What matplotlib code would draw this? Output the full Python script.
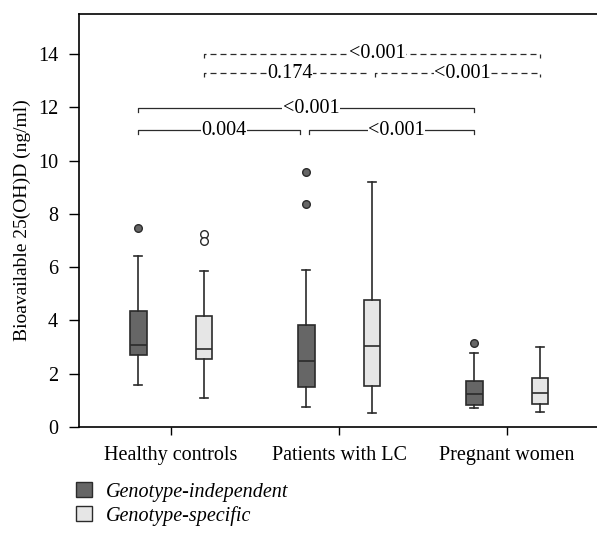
import matplotlib
matplotlib.use("Agg")
from matplotlib import pyplot as plt
from matplotlib.patches import Patch
import numpy as np

plt.rcParams['font.family'] = ['Liberation Serif', 'DejaVu Serif']

groups = ["Healthy controls", "Patients with LC", "Pregnant women"]
series = ["Genotype-independent", "Genotype-specific"]

# box summaries: whislo, q1, med, q3, whishi
indep_stats = [
    [1.58, 2.69, 3.06, 4.34, 6.43],
    [0.76, 1.49, 2.48, 3.82, 5.88],
    [0.70, 0.81, 1.23, 1.74, 2.76],
]
spec_stats = [
    [1.10, 2.56, 2.93, 4.17, 5.85],
    [0.51, 1.54, 3.04, 4.75, 9.21],
    [0.57, 0.86, 1.26, 1.84, 3.00],
]
indep_fliers = [[7.45], [9.58, 8.36], [3.16]]
spec_fliers = [[7.24, 6.97], [], []]

# comparisons: (group a, group b, label)
solid_pairs = [(0, 1, "0.004"), (1, 2, "<0.001"), (0, 2, "<0.001")]
dashed_pairs = [(0, 1, "0.174"), (1, 2, "<0.001"), (0, 2, "<0.001")]

dark = "#666666"
light = "#e6e6e6"
edge = "#2b2b2b"
fs = 14.5

fig = plt.figure(figsize=(5.97, 5.33), dpi=100)
ax = fig.add_axes([79/597, 1 - 427/533, 518/597, 413/533])

off = 0.196
def make_stats(rows, fliers):
    out = []
    for r, f in zip(rows, fliers):
        out.append(dict(whislo=r[0], q1=r[1], med=r[2], q3=r[3], whishi=r[4], fliers=f))
    return out

x = np.arange(len(groups))
for stats, fl, col, dx, mfc in [(indep_stats, indep_fliers, dark, -off, dark),
                                (spec_stats, spec_fliers, light, off, "white")]:
    ax.bxp(make_stats(stats, fl), positions=x + dx, widths=0.1, patch_artist=True,
           boxprops=dict(facecolor=col, edgecolor=edge, linewidth=1.2),
           medianprops=dict(color=edge, linewidth=1.2),
           whiskerprops=dict(color=edge, linewidth=1.2),
           capprops=dict(color=edge, linewidth=1.2),
           capwidths=0.05,
           flierprops=dict(marker='o', markerfacecolor=mfc, markeredgecolor=edge,
                           markersize=5.5, markeredgewidth=1.0),
           manage_ticks=False)

# significance brackets
def bracket(x0, x1, y, ls):
    h = 0.15
    if ls == '--':
        ax.plot([x0, x0, x1, x1], [y - h, y, y, y - h], color=edge, lw=0.9,
                ls='--', dashes=(4.8, 3.2))
    else:
        ax.plot([x0, x0, x1, x1], [y - h, y, y, y - h], color=edge, lw=0.9)

def label(xc, y, s):
    ax.text(xc, y, s, ha='center', va='center', fontsize=fs,
            bbox=dict(facecolor='white', edgecolor='none', pad=0.3))

gap = 0.018
for pairs, sx, levels, ls in [(solid_pairs, -off, (11.14, 11.97), '-'),
                              (dashed_pairs, off, (13.28, 14.0), '--')]:
    for a, b, s in pairs:
        xa, xb = x[a] + sx, x[b] + sx
        y = levels[1] if b - a == 2 else levels[0]
        if b - a == 1:
            if a == 0:
                xb -= gap * 2
            else:
                xa += gap
        bracket(xa, xb, y, ls)
        label((xa + xb) / 2 + 0.03, y, s)

ax.set_xlim(-0.548, 2.535)
ax.set_ylim(0, 15.5)
ax.set_xticks(x)
ax.set_xticklabels(groups, fontsize=fs)
ax.set_yticks(np.arange(0, 15, 2))
ax.tick_params(axis='y', labelsize=fs, length=7, width=1, pad=8)
ax.tick_params(axis='x', length=6, width=1, pad=8)
ax.spines['right'].set_visible(False)
for sp in ax.spines.values():
    sp.set_linewidth(1.2)
ax.set_ylabel("Bioavailable 25(OH)D (ng/ml)", fontsize=14, labelpad=5)

handles = [Patch(facecolor=dark, edgecolor=edge, label=series[0]),
           Patch(facecolor=light, edgecolor=edge, label=series[1])]
fig.legend(handles=handles, loc='upper left', bbox_to_anchor=(0.128, 0.095),
           frameon=False, prop=dict(style='italic', size=fs),
           handlelength=0.75, handleheight=0.75, handletextpad=0.7, labelspacing=0.2,
           borderaxespad=0, borderpad=0)

fig.savefig("out.png", dpi=100)
